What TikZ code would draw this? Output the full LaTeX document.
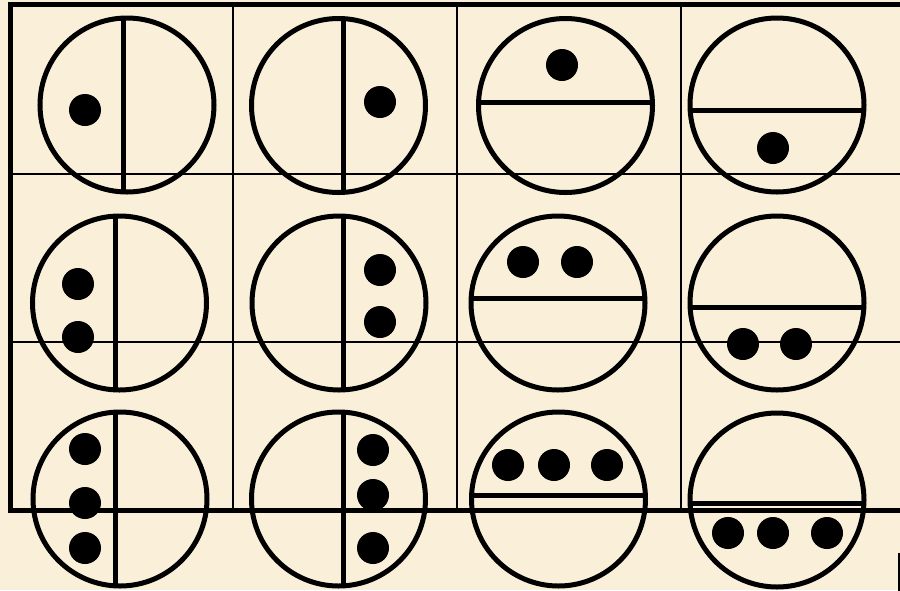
\documentclass[tikz,border=0pt]{standalone}
\usepackage{tikz}
\definecolor{parchment}{HTML}{FAF0DA}

\begin{document}
\begin{tikzpicture}[x=1pt,y=-1pt,
    rim/.style={line width=5pt},
    divider/.style={line width=5pt},
    gridline/.style={line width=1.8pt},
    frame/.style={line width=5pt},
    pip/.style={fill=black}]
    \fill[parchment] (0,0) rectangle (900,590);
    \useasboundingbox (0,0) rectangle (900,590);
    % table
    \foreach \x in {233,457,681} \draw[gridline] (\x,4) -- (\x,510);
    \foreach \y in {174,342} \draw[gridline] (10,\y) -- (905,\y);
    \draw[frame] (905,4) -- (10,4) -- (10,510) -- (905,510);
    \fill (898,553) rectangle (903,592);
    % row 1
    \draw[rim] (127,105) circle (87);
    \draw[divider] (123,18) -- (123,192);
    \fill[pip] (85,110) circle (16);
    \draw[rim] (338.5,105.5) circle (87);
    \draw[divider] (343,19) -- (343,192);
    \fill[pip] (380,102) circle (16);
    \draw[rim] (565.5,105.5) circle (87);
    \draw[divider] (479,102) -- (652,102);
    \fill[pip] (562,65) circle (16);
    \draw[rim] (777,105) circle (87);
    \draw[divider] (690,110) -- (864,110);
    \fill[pip] (773,148) circle (16);
    % row 2
    \draw[rim] (119.5,303) circle (87);
    \draw[divider] (115,216) -- (115,390);
    \foreach \y in {284,337} \fill[pip] (78,\y) circle (16);
    \draw[rim] (339,303) circle (87);
    \draw[divider] (343,216) -- (343,390);
    \foreach \y in {270,322} \fill[pip] (380,\y) circle (16);
    \draw[rim] (558,303) circle (87);
    \draw[divider] (471,298) -- (645,298);
    \foreach \x in {523,577} \fill[pip] (\x,262) circle (16);
    \draw[rim] (777,303) circle (87);
    \draw[divider] (690,307) -- (864,307);
    \foreach \x in {743,796} \fill[pip] (\x,344) circle (16);
    % row 3
    \draw[rim] (120,499) circle (87);
    \draw[divider] (115,412) -- (115,586);
    \foreach \y in {449,503,548} \fill[pip] (85,\y) circle (16);
    \draw[rim] (338.5,499) circle (87);
    \draw[divider] (343,412) -- (343,586);
    \foreach \y in {450,495,548} \fill[pip] (373,\y) circle (16);
    \draw[rim] (558.5,499) circle (87);
    \draw[divider] (472,495) -- (645,495);
    \foreach \x in {508,554,607} \fill[pip] (\x,465) circle (16);
    \draw[rim] (777,500) circle (87);
    \draw[divider] (690,503) -- (864,503);
    \foreach \x in {728,773,827} \fill[pip] (\x,533) circle (16);
\end{tikzpicture}
\end{document}
